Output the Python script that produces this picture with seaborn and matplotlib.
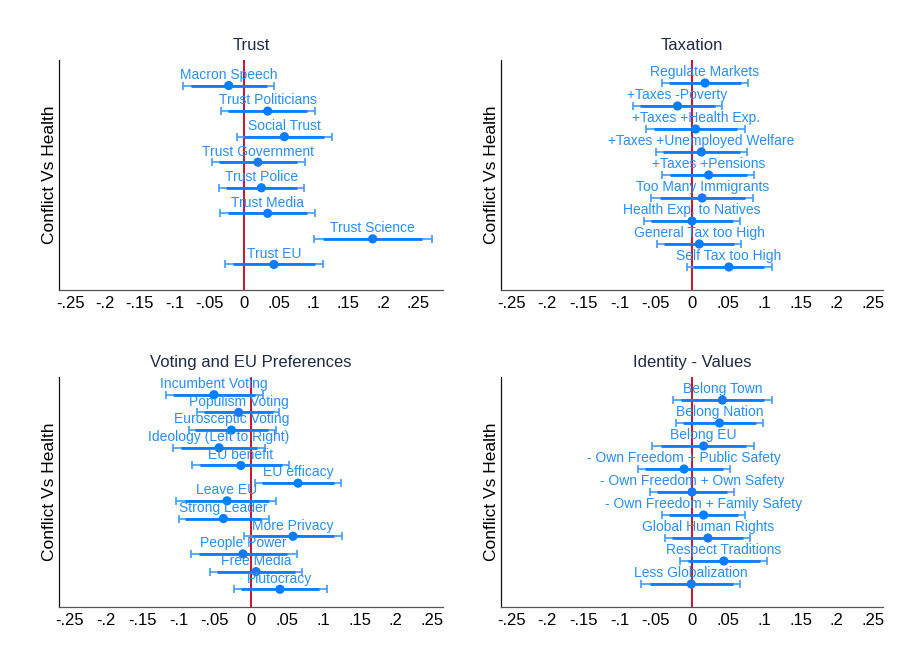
import matplotlib
matplotlib.use("Agg")
from matplotlib import pyplot as plt
import pandas as pd
import seaborn as sns

# ---- data (point estimate + 95% CI bounds) ----
trust_labels = ["Macron Speech", "Trust Politicians", "Social Trust", "Trust Government",
                "Trust Police", "Trust Media", "Trust Science", "Trust EU"]
trust_coef = [-0.022, 0.034, 0.058, 0.020, 0.025, 0.034, 0.185, 0.043]
trust_lo = [-0.087, -0.033, -0.010, -0.046, -0.036, -0.034, 0.101, -0.028]
trust_hi = [0.043, 0.102, 0.127, 0.087, 0.086, 0.102, 0.270, 0.113]

tax_labels = ["Regulate Markets", "+Taxes -Poverty", "+Taxes +Health Exp.",
              "+Taxes +Unemployed Welfare", "+Taxes +Pensions", "Too Many Immigrants",
              "Health Exp. to Natives", "General Tax too High", "Self Tax too High"]
tax_coef = [0.018, -0.020, 0.005, 0.013, 0.023, 0.014, 0.000, 0.010, 0.051]
tax_lo = [-0.042, -0.081, -0.064, -0.050, -0.041, -0.056, -0.067, -0.048, -0.007]
tax_hi = [0.078, 0.041, 0.073, 0.076, 0.086, 0.084, 0.067, 0.068, 0.110]

vote_labels = ["Incumbent Voting", "Populism Voting", "Eurosceptic Voting",
               "Ideology (Left to Right)", "EU benefit", "EU efficacy", "Leave EU",
               "Strong Leader", "More Privacy", "People Power", "Free Media", "Plutocracy"]
vote_coef = [-0.051, -0.017, -0.027, -0.044, -0.014, 0.065, -0.033, -0.038,
             0.058, -0.011, 0.007, 0.040]
vote_lo = [-0.117, -0.075, -0.086, -0.107, -0.081, 0.006, -0.103, -0.100,
           -0.010, -0.083, -0.057, -0.024]
vote_hi = [0.017, 0.039, 0.034, 0.019, 0.053, 0.124, 0.035, 0.025,
           0.126, 0.063, 0.071, 0.105]

ident_labels = ["Belong Town", "Belong Nation", "Belong EU",
                "- Own Freedom + Public Safety", "- Own Freedom + Own Safety",
                "- Own Freedom + Family Safety", "Global Human Rights",
                "Respect Traditions", "Less Globalization"]
ident_coef = [0.042, 0.038, 0.016, -0.011, 0.000, 0.016, 0.022, 0.044, -0.001]
ident_lo = [-0.026, -0.022, -0.055, -0.075, -0.058, -0.042, -0.037, -0.016, -0.070]
ident_hi = [0.111, 0.098, 0.086, 0.053, 0.058, 0.073, 0.080, 0.103, 0.067]

x_ticks = [-0.25, -0.2, -0.15, -0.1, -0.05, 0, 0.05, 0.1, 0.15, 0.2, 0.25]
x_tick_labels = ["-.25", "-.2", "-.15", "-.1", "-.05", "0", ".05", ".1", ".15", ".2", ".25"]

BLUE = "#0a7cff"
LIGHT = "#3d9cff"
TEXT = "#2490ff"
RED = "#d0102e"
NAVY = "#1f2a48"

sns.set_theme(style="white")
plt.rcParams["font.family"] = ["Liberation Sans", "DejaVu Sans"]


def coef_panel(ax, title, labels, coef, lo, hi, xlim):
    df = pd.DataFrame({"label": labels, "coef": coef, "lo": lo, "hi": hi})
    df["pos"] = range(1, len(df) + 1)
    # inner (90%) band derived from the 95% bounds
    inner = (df["hi"] - df["lo"]) / 2 * 1.645 / 1.96

    ax.axvline(0, color=RED, lw=1.4, zorder=1)
    ax.errorbar(df["coef"], df["pos"],
                xerr=[df["coef"] - df["lo"], df["hi"] - df["coef"]],
                fmt="none", ecolor=LIGHT, elinewidth=1.2, capsize=2.6,
                capthick=1.2, zorder=2)
    ax.hlines(df["pos"], df["coef"] - inner, df["coef"] + inner,
              color=BLUE, lw=2.0, zorder=3)
    sns.scatterplot(data=df, x="coef", y="pos", ax=ax, color=BLUE, s=44,
                    edgecolor="none", linewidth=0, zorder=4)
    for _, r in df.iterrows():
        ax.annotate(r["label"], (r["coef"], r["pos"]), xytext=(0, 4.8),
                    textcoords="offset points", ha="center", va="baseline",
                    fontsize=10, color=TEXT, zorder=5)

    ax.set_ylim(len(df) + 1, 0)
    ax.set_xlim(*xlim)
    ax.set_xticks(x_ticks)
    ax.set_xticklabels(x_tick_labels, fontsize=12, color="black")
    ax.tick_params(axis="x", length=0, pad=4)
    ax.set_yticks([])
    ax.set_xlabel("")
    ax.set_ylabel("Conflict Vs Health", fontsize=12.5, color="black")
    ax.yaxis.set_label_coords(-0.004, 0.5)
    ax.set_title(title, fontsize=12, color=NAVY, pad=7)
    sns.despine(ax=ax)
    ax.spines["left"].set_color("#111111")
    ax.spines["bottom"].set_color("#555555")
    for side in ("left", "bottom"):
        ax.spines[side].set_linewidth(0.9)


fig = plt.figure(figsize=(9.06, 6.66), dpi=100)
ax_tl = fig.add_axes([0.0651, 0.5646, 0.4238, 0.3453])
ax_tr = fig.add_axes([0.5530, 0.5646, 0.4216, 0.3453])
ax_bl = fig.add_axes([0.0651, 0.0886, 0.4238, 0.3453])
ax_br = fig.add_axes([0.5530, 0.0886, 0.4216, 0.3453])

coef_panel(ax_tl, "Trust", trust_labels, trust_coef, trust_lo, trust_hi, (-0.266, 0.286))
coef_panel(ax_tr, "Taxation", tax_labels, tax_coef, tax_lo, tax_hi, (-0.264, 0.264))
coef_panel(ax_bl, "Voting and EU Preferences", vote_labels, vote_coef, vote_lo, vote_hi,
           (-0.265, 0.265))
coef_panel(ax_br, "Identity - Values", ident_labels, ident_coef, ident_lo, ident_hi,
           (-0.264, 0.264))

fig.savefig("out.png", dpi=100, facecolor="white")
